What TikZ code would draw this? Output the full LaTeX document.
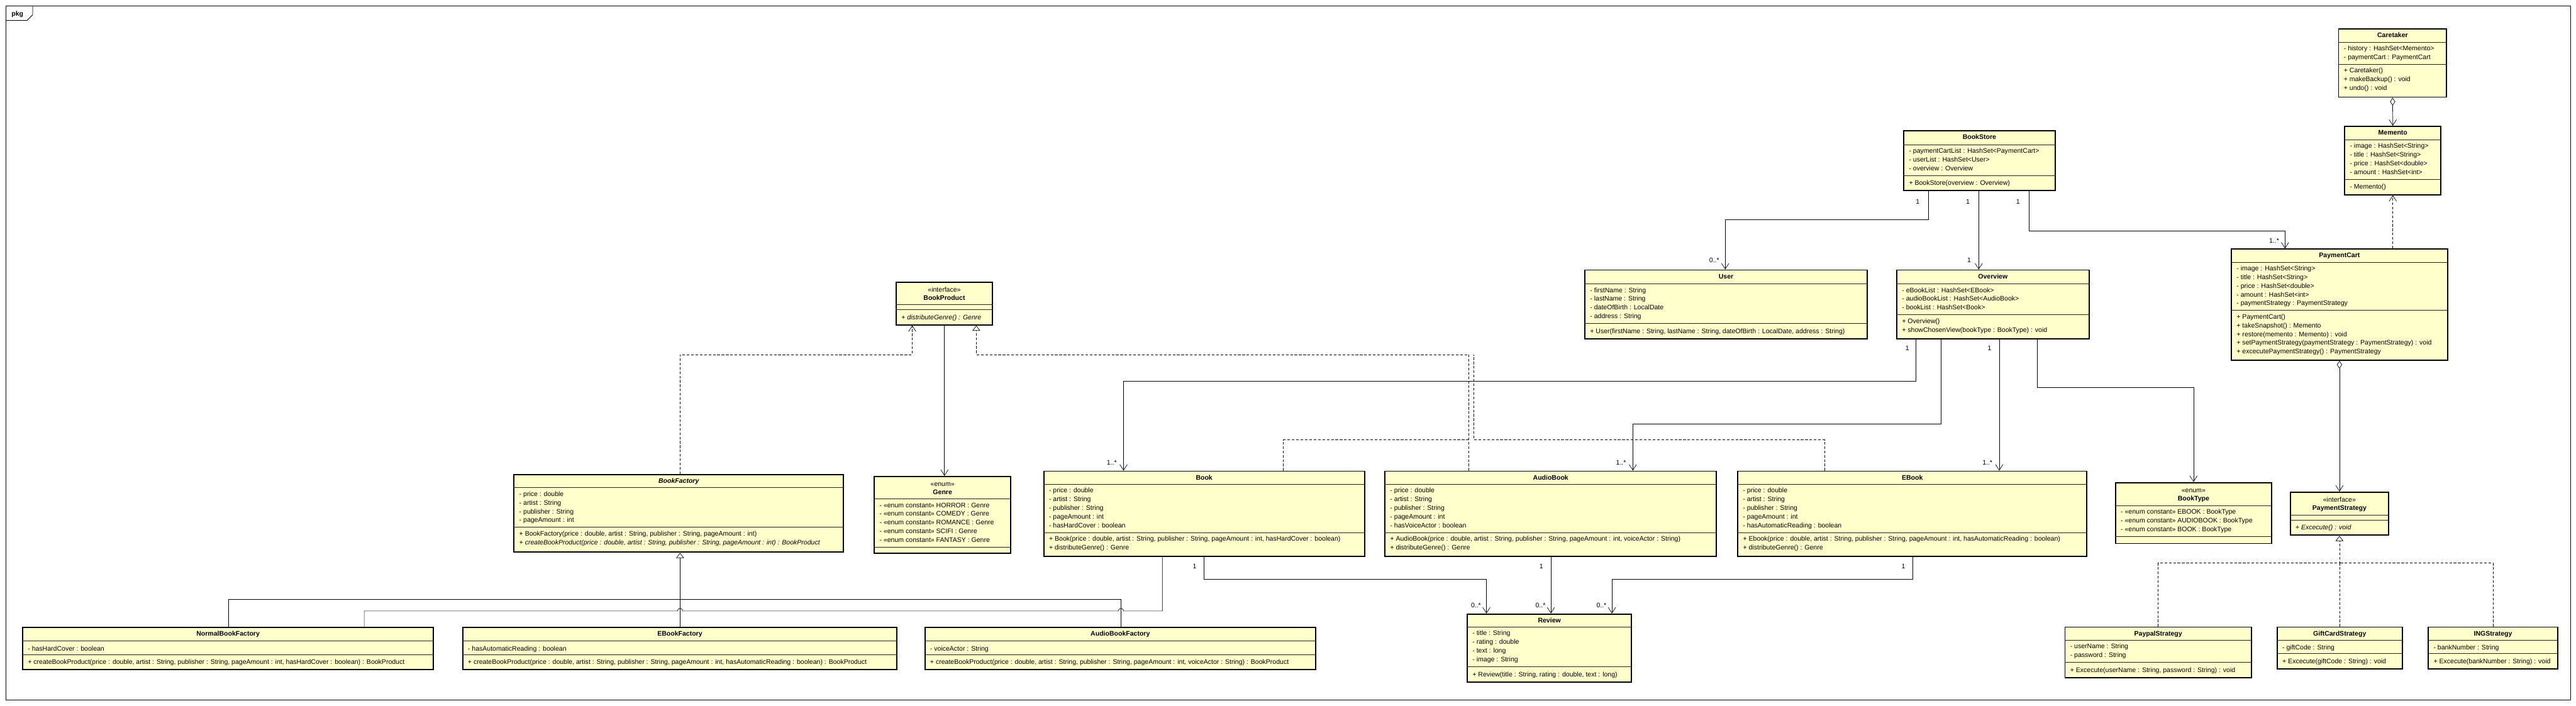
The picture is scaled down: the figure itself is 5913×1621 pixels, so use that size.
\documentclass[tikz,border=0pt]{standalone}
\usepackage{fontspec}
\setmainfont{Liberation Sans}
\usetikzlibrary{arrows.meta,positioning,fit,calc}
\definecolor{classfill}{HTML}{FFFFCC}
\newcommand{\umlfont}{\fontsize{7.6}{10}\selectfont}
\tikzset{
classbox/.style={
  draw=black, line width=1.4pt, fill=classfill, inner sep=0pt
  },
divider/.style={draw=black!85, line width=0.6pt},
classname/.style={font=\umlfont\bfseries, anchor=base, inner sep=0pt},
stereo/.style={font=\umlfont, anchor=base, inner sep=0pt},
members/.style={
  anchor=north west, align=left, inner sep=0pt,
  execute at begin node=\strut
  },
mult/.style={font=\umlfont, inner sep=1pt},
conn/.style={line width=0.5pt},
assoc/.style={conn, -{Straight Barb[length=6.5pt,width=8.5pt]}},
dep/.style={assoc, dash pattern=on 3pt off 2pt},
dline/.style={conn, dash pattern=on 3pt off 2pt},
realize/.style={dline,
  -{Triangle[open,length=6pt,width=9pt,fill=white]}},
general/.style={conn, -{Triangle[open,length=6pt,width=9pt,fill=white]}},
aggr/.style={conn,
  {Diamond[open,length=9pt,width=6pt,fill=white]}-{Straight Barb[length=6.5pt,width=8.5pt]}}
}
% name, top left, bottom right, divider 1, divider 2, title, attributes, operations
\newcommand{\umlclass}[8]{%
  \node[classbox, fit={(#2) (#3)}] (#1) {};
  \node[classname] (#1-name) at ([yshift=-10.5pt]#1.north) {#6};
  \draw[divider] (#1.west |- 0,#4) -- (#1.east |- 0,#4);
  \draw[divider] (#1.west |- 0,#5) -- (#1.east |- 0,#5);
  \node[members] (#1-attr) at ($(#1.west |- 0,#4)+(13,8)$) {#7};
  \node[members] (#1-ops) at ($(#1.west |- 0,#5)+(13,8)$) {#8};
}

\begin{document}
\begin{tikzpicture}[x=0.5pt, y=-0.5pt, font=\umlfont]
\useasboundingbox (0,0) rectangle (5913,1621);

% package frame
\draw[line width=0.6pt] (13,13) rectangle (5900,1608);
\draw[line width=0.6pt] (13,47) -- (62,47) -- (75,34) -- (75,13);
\node[classname] (pkg) at (40,37) {pkg};

% memento part
\umlclass{caretaker}{5368,67}{5616,223}{97}{148}{Caretaker}
  {- history : HashSet<Memento>\\- paymentCart : PaymentCart}
  {+ Caretaker()\\+ makeBackup() : void\\+ undo() : void}
\umlclass{memento}{5382,290}{5603,447}{321}{412}{Memento}
  {- image : HashSet<String>\\- title : HashSet<String>\\- price : HashSet<double>\\- amount : HashSet<int>}
  {- Memento()}
\umlclass{paymentcart}{5122,572}{5618,827}{602}{713}{PaymentCart}
  {- image : HashSet<String>\\- title : HashSet<String>\\- price : HashSet<double>\\- amount : HashSet<int>\\- paymentStrategy : PaymentStrategy}
  {+ PaymentCart()\\+ takeSnapshot() : Memento\\+ restore(memento : Memento) : void\\+ setPaymentStrategy(paymentStrategy : PaymentStrategy) : void\\+ excecutePaymentStrategy() : PaymentStrategy}

% store part
\umlclass{bookstore}{4370,300}{4717,437}{332}{403}{BookStore}
  {- paymentCartList : HashSet<PaymentCart>\\- userList : HashSet<User>\\- overview : Overview}
  {+ BookStore(overview : Overview)}
\umlclass{user}{3638,620}{4286,778}{652}{743}{User}
  {- firstName : String\\- lastName : String\\- dateOfBirth : LocalDate\\- address : String}
  {+ User(firstName : String, lastName : String, dateOfBirth : LocalDate, address : String)}
\umlclass{overview}{4354,620}{4795,778}{652}{723}{Overview}
  {- eBookList : HashSet<EBook>\\- audioBookList : HashSet<AudioBook>\\- bookList : HashSet<Book>}
  {+ Overview()\\+ showChosenView(bookType : BookType) : void}

% products
\umlclass{bookproduct}{2057,648}{2278,746}{700}{711}{}
  {}
  {\itshape + distributeGenre() : Genre}
\node[stereo] (bookproduct-st) at ([yshift=-12pt]bookproduct.north) {<<interface>>};
\node[classname] (bookproduct-nm) at ([yshift=-21.5pt]bookproduct.north) {BookProduct};
\umlclass{genre}{2007,1094}{2320,1271}{1146}{1257}{}
  {- <<enum constant>> HORROR : Genre\\- <<enum constant>> COMEDY : Genre\\- <<enum constant>> ROMANCE : Genre\\- <<enum constant>> SCIFI : Genre\\- <<enum constant>> FANTASY : Genre}
  {}
\node[stereo] (genre-st) at ([yshift=-12pt]genre.north) {<<enum>>};
\node[classname] (genre-nm) at ([yshift=-21.5pt]genre.north) {Genre};
\umlclass{book}{2396,1082}{3132,1278}{1112}{1223}{Book}
  {- price : double\\- artist : String\\- publisher : String\\- pageAmount : int\\- hasHardCover : boolean}
  {+ Book(price : double, artist : String, publisher : String, pageAmount : int, hasHardCover : boolean)\\+ distributeGenre() : Genre}
\umlclass{audiobook}{3179,1082}{3940,1278}{1112}{1223}{AudioBook}
  {- price : double\\- artist : String\\- publisher : String\\- pageAmount : int\\- hasVoiceActor : boolean}
  {+ AudioBook(price : double, artist : String, publisher : String, pageAmount : int, voiceActor : String)\\+ distributeGenre() : Genre}
\umlclass{ebook}{3989,1082}{4790,1278}{1112}{1223}{EBook}
  {- price : double\\- artist : String\\- publisher : String\\- pageAmount : int\\- hasAutomaticReading : boolean}
  {+ Ebook(price : double, artist : String, publisher : String, pageAmount : int, hasAutomaticReading : boolean)\\+ distributeGenre() : Genre}
\umlclass{booktype}{4856,1108}{5214,1248}{1161}{1232}{}
  {- <<enum constant>> EBOOK : BookType\\- <<enum constant>> AUDIOBOOK : BookType\\- <<enum constant>> BOOK : BookType}
  {}
\node[stereo] (booktype-st) at ([yshift=-12pt]booktype.north) {<<enum>>};
\node[classname] (booktype-nm) at ([yshift=-21.5pt]booktype.north) {BookType};
\umlclass{review}{3368,1410}{3745,1566}{1440}{1531}{Review}
  {- title : String\\- rating : double\\- text : long\\- image : String}
  {+ Review(title : String, rating : double, text : long)}

% factories
\umlclass{bookfactory}{1180,1090}{1936,1268}{1120}{1211}{\itshape BookFactory}
  {- price : double\\- artist : String\\- publisher : String\\- pageAmount : int}
  {+ BookFactory(price : double, artist : String, publisher : String, pageAmount : int)\\\itshape + createBookProduct(price : double, artist : String, publisher : String, pageAmount : int) : BookProduct}
\umlclass{normalfactory}{52,1441}{995,1538}{1472}{1503}{NormalBookFactory}
  {- hasHardCover : boolean}
  {+ createBookProduct(price : double, artist : String, publisher : String, pageAmount : int, hasHardCover : boolean) : BookProduct}
\umlclass{ebookfactory}{1062,1441}{2059,1538}{1472}{1503}{EBookFactory}
  {- hasAutomaticReading : boolean}
  {+ createBookProduct(price : double, artist : String, publisher : String, pageAmount : int, hasAutomaticReading : boolean) : BookProduct}
\umlclass{audiofactory}{2123,1441}{3020,1538}{1472}{1503}{AudioBookFactory}
  {- voiceActor : String}
  {+ createBookProduct(price : double, artist : String, publisher : String, pageAmount : int, voiceActor : String) : BookProduct}

% strategies
\umlclass{paystrategy}{5257,1130}{5483,1229}{1183}{1194}{}
  {}
  {\itshape + Excecute() : void}
\node[stereo] (paystrategy-st) at ([yshift=-12pt]paystrategy.north) {<<interface>>};
\node[classname] (paystrategy-nm) at ([yshift=-21.5pt]paystrategy.north) {PaymentStrategy};
\umlclass{paypal}{4740,1440}{5168,1556}{1470}{1521}{PaypalStrategy}
  {- userName : String\\- password : String}
  {+ Excecute(userName : String, password : String) : void}
\umlclass{giftcard}{5227,1440}{5514,1536}{1470}{1501}{GiftCardStrategy}
  {- giftCode : String}
  {+ Excecute(giftCode : String) : void}
\umlclass{ing}{5574,1440}{5871,1536}{1470}{1501}{INGStrategy}
  {- bankNumber : String}
  {+ Excecute(bankNumber : String) : void}

% memento links
\draw[aggr] (caretaker.south) -- (memento.north);
\draw[dep] (memento.south |- paymentcart.north) -- (memento.south);

% bookstore links
\draw[assoc] (4427,0 |- bookstore.south) -- (4427,505) -| (3960,0 |- user.north);
\draw[assoc] (4542,0 |- bookstore.south) -- (4542,0 |- overview.north);
\draw[assoc] (4657,0 |- bookstore.south) -- (4657,530) -| (5245,0 |- paymentcart.north);
\node[mult] at (4402,463) {1};
\node[mult] at (4517,463) {1};
\node[mult] at (4632,463) {1};
\node[mult] at (3935,597) {0..*};
\node[mult] at (4520,598) {1};
\node[mult] at (5220,553) {1..*};

% overview links
\draw[assoc] (4398,0 |- overview.south) -- (4398,875) -| (2579,0 |- book.north);
\draw[assoc] (4455,0 |- overview.south) -- (4455,973) -| (3748,0 |- audiobook.north);
\draw[assoc] (4589,0 |- overview.south) -- (4589,0 |- ebook.north);
\draw[assoc] (4676,0 |- overview.south) -- (4676,890) -| (booktype.north);
\node[mult] at (4378,800) {1};
\node[mult] at (4567,800) {1};
\node[mult] at (2552,1062) {1..*};
\node[mult] at (3721,1062) {1..*};
\node[mult] at (4562,1062) {1..*};

% realizations of BookProduct
\draw[realize] (3371,0 |- audiobook.north) -- (3371,814) -| (2241,0 |- bookproduct.south);
\draw[dline] (2946,0 |- book.north) -- (2946,1010) -- (3371,1010);
\draw[dline] (4189,0 |- ebook.north) -- (4189,1010) -- (3383,1010) -- (3383,814);
\draw[dep] (1561,0 |- bookfactory.north) -- (1561,814) -| (2094,0 |- bookproduct.south);
\draw[assoc] (2168,0 |- bookproduct.south) -- (2168,0 |- genre.north);

% review links
\draw[assoc] (2764,0 |- book.south) -- (2764,1330) -| (3412,0 |- review.north);
\draw[assoc] (3560,0 |- audiobook.south) -- (3560,0 |- review.north);
\draw[assoc] (4391,0 |- ebook.south) -- (4391,1330) -| (3700,0 |- review.north);
\node[mult] at (2742,1300) {1};
\node[mult] at (3538,1300) {1};
\node[mult] at (4369,1300) {1};
\node[mult] at (3388,1390) {0..*};
\node[mult] at (3536,1390) {0..*};
\node[mult] at (3676,1390) {0..*};

% factory hierarchy
\draw[general] (525,0 |- normalfactory.north) -- (525,1376) -- (1561,1376) -- (1561,0 |- bookfactory.south);
\draw[conn] (1561,0 |- ebookfactory.north) -- (1561,1376);
\draw[conn] (2573,0 |- audiofactory.north) -- (2573,1376) -- (1561,1376);
\draw[conn] (2668,0 |- book.south) -- (2668,1403) -- (2579,1403)
  arc[start angle=0, end angle=180, radius=3pt] -- (1567,1403)
  arc[start angle=0, end angle=180, radius=3pt] -- (836,1403) -- (836,0 |- normalfactory.north);

% strategy links
\draw[aggr] (paystrategy.north |- paymentcart.south) -- (paystrategy.north);
\draw[realize] (paypal.north) -- (paypal.north |- 0,1293) -- (paystrategy.south |- 0,1293) -- (paystrategy.south);
\draw[dline] (giftcard.north) -- (giftcard.north |- 0,1293);
\draw[dline] (ing.north) -- (ing.north |- 0,1293) -- (paystrategy.south |- 0,1293);

\end{tikzpicture}
\end{document}
